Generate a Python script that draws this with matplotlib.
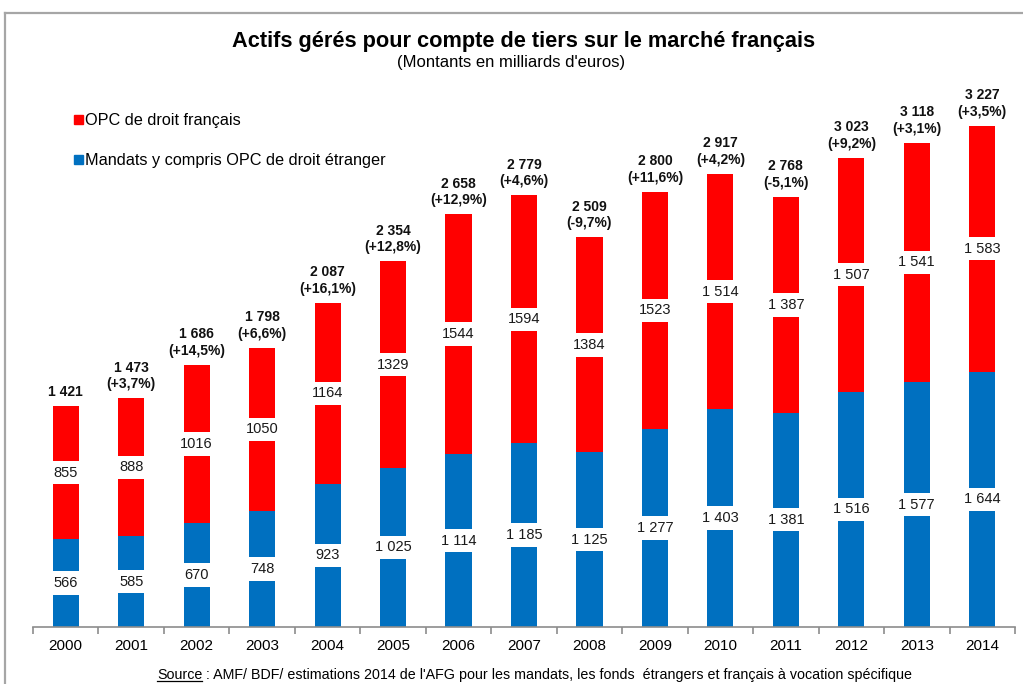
import matplotlib
matplotlib.use("Agg")
import matplotlib.pyplot as plt
from matplotlib.lines import Line2D
import numpy as np

plt.rcParams['font.family'] = ['Liberation Sans', 'DejaVu Sans']

years = ["2000", "2001", "2002", "2003", "2004", "2005", "2006", "2007",
         "2008", "2009", "2010", "2011", "2012", "2013", "2014"]
mandats = [566, 585, 670, 748, 923, 1025, 1114, 1185, 1125, 1277, 1403, 1381, 1516, 1577, 1644]
opc = [855, 888, 1016, 1050, 1164, 1329, 1544, 1594, 1384, 1523, 1514, 1387, 1507, 1541, 1583]
mandats_labels = ["566", "585", "670", "748", "923", "1 025", "1 114", "1 185", "1 125",
                  "1 277", "1 403", "1 381", "1 516", "1 577", "1 644"]
opc_labels = ["855", "888", "1016", "1050", "1164", "1329", "1544", "1594", "1384",
              "1523", "1 514", "1 387", "1 507", "1 541", "1 583"]
total_labels = ["1 421", "1 473", "1 686", "1 798", "2 087", "2 354", "2 658", "2 779",
                "2 509", "2 800", "2 917", "2 768", "3 023", "3 118", "3 227"]
change_labels = ["", "(+3,7%)", "(+14,5%)", "(+6,6%)", "(+16,1%)", "(+12,8%)", "(+12,9%)",
                 "(+4,6%)", "(-9,7%)", "(+11,6%)", "(+4,2%)", "(-5,1%)", "(+9,2%)",
                 "(+3,1%)", "(+3,5%)"]

RED = "#FF0000"
BLUE = "#0070C0"

fig = plt.figure(figsize=(10.23, 6.84), dpi=100)
ax = fig.add_axes([33/1023, 1 - 627/684, (1015-33)/1023, (627-90)/684])

x = np.arange(len(years))
w = 0.40
ax.bar(x, mandats, width=w, color=BLUE, zorder=2)
ax.bar(x, opc, width=w, bottom=mandats, color=RED, zorder=2)

bbox = dict(boxstyle="square,pad=0.32", fc="white", ec="none")
for i in range(len(years)):
    ax.text(x[i], mandats[i] / 2, mandats_labels[i], ha="center", va="center",
            fontsize=10.5, color="#1a1a1a", bbox=bbox, zorder=3)
    ax.text(x[i], mandats[i] + opc[i] / 2, opc_labels[i], ha="center", va="center",
            fontsize=10.5, color="#1a1a1a", bbox=bbox, zorder=3)
    tot = mandats[i] + opc[i]
    txt = total_labels[i] if change_labels[i] == "" else total_labels[i] + "\n" + change_labels[i]
    ax.annotate(txt, xy=(x[i], tot), xytext=(0, 5), textcoords="offset points",
                ha="center", va="bottom", fontsize=10, fontweight="bold",
                linespacing=1.25, color="#111111", zorder=3)

ax.set_xlim(-0.5, len(years) - 0.5)
ax.set_ylim(0, 3458)
ax.set_yticks([])
for s in ["left", "right", "top"]:
    ax.spines[s].set_visible(False)
ax.spines["bottom"].set_color("#8c8c8c")
ax.spines["bottom"].set_linewidth(1.2)
ax.set_xticks(x)
ax.set_xticklabels(years, fontsize=11)
ax.tick_params(axis="x", which="major", length=0, pad=9)
ax.set_xticks(np.arange(-0.5, len(years)), minor=True)
ax.tick_params(axis="x", which="minor", length=5, color="#8c8c8c", width=1.2, direction="out")

# Title
fig.text(524/1023, 1 - 42/684, "Actifs gérés pour compte de tiers sur le marché français",
         ha="center", va="center", fontsize=15.7, fontweight="bold")
fig.text(511/1023, 1 - 63/684, "(Montants en milliards d'euros)",
         ha="center", va="center", fontsize=12)

# Legend
for (ypix, col, lab) in [(120, RED, "OPC de droit français"),
                         (160, BLUE, "Mandats y compris OPC de droit étranger")]:
    fig.patches.append(plt.Rectangle((74/1023, 1 - (ypix + 4)/684), 9/1023, 9/684,
                                     transform=fig.transFigure, color=col, figure=fig))
    fig.text(85/1023, 1 - ypix/684, lab, ha="left", va="center", fontsize=11.7)

# Source
src1 = fig.text(157/1023, 1 - 675/684, "Source", ha="left", va="center", fontsize=10.3)
fig.canvas.draw()
r = fig.canvas.get_renderer()
bb = src1.get_window_extent(r)
x0, x1 = bb.x0 / 1023, bb.x1 / 1023
yl = (bb.y0 + 1) / 684
fig.lines.append(Line2D([x0, x1], [yl, yl], transform=fig.transFigure, color="black", lw=0.9))
fig.text(x1, 1 - 675/684,
         " : AMF/ BDF/ estimations 2014 de l'AFG pour les mandats, les fonds  étrangers et français à vocation spécifique",
         ha="left", va="center", fontsize=10.3)

# Frame
fig.lines.append(Line2D([5/1023, 1], [1 - 13/684, 1 - 13/684], transform=fig.transFigure,
                        color="#a6a6a6", lw=1.6))
fig.lines.append(Line2D([5/1023, 5/1023], [0, 1 - 13/684], transform=fig.transFigure,
                        color="#a6a6a6", lw=1.6))

fig.savefig("out.png", dpi=100)
